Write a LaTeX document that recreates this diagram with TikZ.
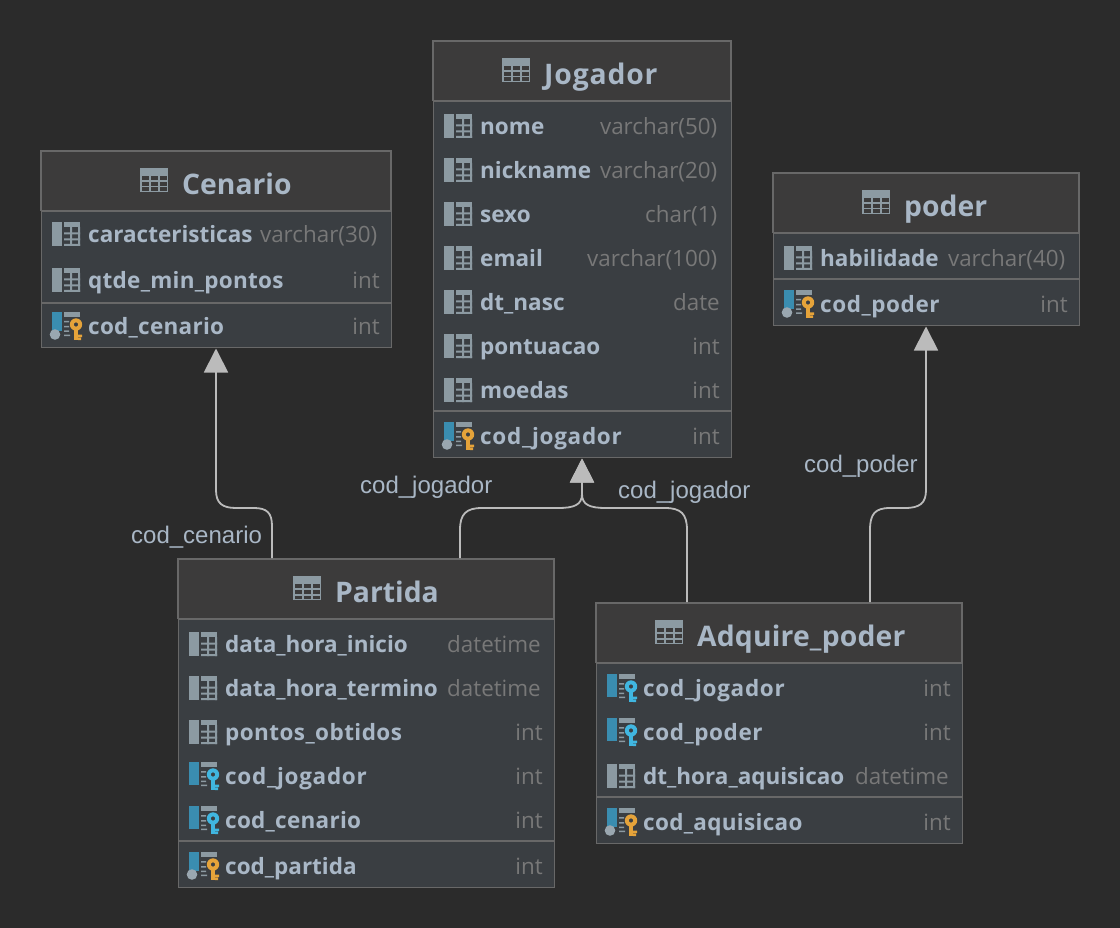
\documentclass[tikz,border=0pt]{standalone}
\usepackage{fontspec}
\setmainfont{Open Sans}
\newfontfamily\lblfont{Liberation Sans}
\usetikzlibrary{arrows.meta}
\definecolor{bgc}{HTML}{2B2B2B}
\definecolor{headc}{HTML}{3C3B3B}
\definecolor{bodyc}{HTML}{3A3E42}
\definecolor{borderc}{HTML}{686868}
\definecolor{textc}{HTML}{A9B7C6}
\definecolor{typec}{HTML}{787878}
\definecolor{iconc}{HTML}{8C9AA2}
\definecolor{barblue}{HTML}{3A8DB0}
\definecolor{dotc}{HTML}{9AA7B0}
\definecolor{fkc}{HTML}{40B6E0}
\definecolor{pkc}{HTML}{E5A33A}
\definecolor{linec}{HTML}{BBBBBB}
\newcommand{\ls}[2]{{\addfontfeature{LetterSpace=#1}#2}}
\newcommand{\rp}{)\kern2.5pt}
\newcommand{\dtm}{datetime\kern2pt}
\tikzset{
  tablebox/.style={draw=borderc,line width=1.4pt,fill=bodyc,anchor=north west,inner sep=0pt},
  titletext/.style={text=textc,anchor=base west,inner sep=0pt,font=\fontsize{28.3}{32}\selectfont\bfseries},
  colname/.style={text=textc,anchor=base west,inner sep=0pt,font=\fontsize{22.5}{26}\selectfont\bfseries},
  coltype/.style={text=typec,anchor=base east,inner sep=0pt,font=\fontsize{22.4}{26}\selectfont},
  fklabel/.style={text=textc,anchor=base west,inner sep=0pt,font=\fontsize{24}{28}\selectfont\lblfont},
  divider/.style={draw=borderc,line width=1.4pt},
  conn/.style={draw=linec,line width=1.8pt,-{Triangle[width=24pt,length=24pt,fill=linec]}},
}
\newcommand{\headband}[5]{\fill[headc] (#2,#4) rectangle (#3,#5);
  \draw[divider] (#2,#5) -- (#3,#5);
  \draw[draw=borderc,line width=1.4pt] (#2,#5) -- (#2,#4) -- (#3,#4) -- (#3,#5);}
\newcommand{\tabicon}[2]{\begin{scope}[shift={(#1,#2)}]
  \fill[iconc] (0,0) rectangle (28,24);
  \foreach \cx in {1.5,10.5,19.5}{\foreach \cy in {8,14,19.5}{\fill[headc] (\cx,\cy) rectangle ++(7,3.8);}}
  \end{scope}}
\newcommand{\colicon}[2]{\begin{scope}[shift={(#1,#2)}]
  \fill[iconc] (0,0) rectangle (10,24);
  \fill[iconc] (12,0) rectangle (28,5);
  \fill[iconc] (12,10.5) rectangle (28,12.5) (12,16.5) rectangle (28,18.5) (12,22) rectangle (28,24);
  \fill[iconc] (18,5) rectangle (20,24) (26,5) rectangle (28,24);
  \end{scope}}
\newcommand{\keyshape}[1]{%
  \fill[#1,even odd rule] (24,12.5) circle (6.2) (24,12.5) circle (2.2);
  \fill[#1] (22,17) rectangle (26,28);
  \fill[#1] (26,22.5) rectangle (30,25) (26,25.5) rectangle (29,28);}
\newcommand{\tablelines}{%
  \fill[iconc] (12,0) rectangle (28,5);
  \fill[iconc] (12,9) rectangle (17,10.5) (12,14) rectangle (17,15.5) (12,18.5) rectangle (17,20) (12,22.5) rectangle (18,24);}
\newcommand{\fkicon}[2]{\begin{scope}[shift={(#1,#2)}]
  \fill[barblue] (0,0) rectangle (10,23);
  \tablelines\keyshape{fkc}
  \end{scope}}
\newcommand{\pkicon}[2]{\begin{scope}[shift={(#1,#2)}]
  \fill[barblue] (0,0) rectangle (10,19);
  \fill[dotc] (3,22.5) circle (5.3);
  \tablelines\keyshape{pkc}
  \end{scope}}
\newcommand{\rowtext}[6]{%
  \node[colname] (#1-name) at (#2+47,#4+8.6) {#5};
  \node[coltype] (#1-type) at (#3-11,#4+8.6) {#6};}
\newcommand{\colrow}[6]{\colicon{#2+11}{#4-12}\rowtext{#1}{#2}{#3}{#4}{#5}{#6}}
\newcommand{\fkrow}[6]{\fkicon{#2+11}{#4-14}\rowtext{#1}{#2}{#3}{#4}{#5}{#6}}
\newcommand{\pkrow}[6]{\pkicon{#2+11}{#4-14}\rowtext{#1}{#2}{#3}{#4}{#5}{#6}}
\begin{document}
\begin{tikzpicture}[x=1pt,y=-1pt]
\useasboundingbox (0,0) rectangle (1120,928);
\fill[bgc] (0,0) rectangle (1120,928);

% Cenario
\node[tablebox,minimum width=350pt,minimum height=196pt] (cenario) at (41,151) {};
\headband{cenario}{41}{391}{151}{211}
\tabicon{140}{168}
\node[titletext] (cenario-title) at (182,194.5) {Cenario};
\colrow{cen1}{41}{391}{234}{caracteristicas}{varchar(30\rp}
\colrow{cen2}{41}{391}{280}{\ls{1.2}{qtde\_min\_pontos}}{int}
\draw[divider] (41,303) -- (391,303);
\pkrow{cen3}{41}{391}{326}{\ls{1.2}{cod\_cenario}}{int}

% Jogador
\node[tablebox,minimum width=298pt,minimum height=416pt] (jogador) at (433,41) {};
\headband{jogador}{433}{731}{41}{101}
\tabicon{502}{58}
\node[titletext] (jogador-title) at (544,84.5) {\ls{3}{Jogador}};
\colrow{jog1}{433}{731}{126}{nome}{varchar(50\rp}
\colrow{jog2}{433}{731}{170}{nickname}{varchar(20\rp}
\colrow{jog3}{433}{731}{214}{sexo}{char(1\rp}
\colrow{jog4}{433}{731}{258}{email}{varchar(100\rp}
\colrow{jog5}{433}{731}{302}{dt\_nasc}{date}
\colrow{jog6}{433}{731}{346}{pontuacao}{int}
\colrow{jog7}{433}{731}{390}{moedas}{int}
\draw[divider] (433,411) -- (731,411);
\pkrow{jog8}{433}{731}{436}{\ls{3.2}{cod\_jogador}}{int}

% poder
\node[tablebox,minimum width=306pt,minimum height=152pt] (poder) at (773,173) {};
\headband{poder}{773}{1079}{173}{233}
\tabicon{862}{190}
\node[titletext] (poder-title) at (904,216.5) {poder};
\colrow{pod1}{773}{1079}{258}{habilidade}{varchar(40\rp}
\draw[divider] (773,279) -- (1079,279);
\pkrow{pod2}{773}{1079}{304}{\ls{2.5}{cod\_poder}}{int}

% Partida
\node[tablebox,minimum width=376pt,minimum height=328pt] (partida) at (178,559) {};
\headband{partida}{178}{554}{559}{619}
\tabicon{293}{576}
\node[titletext] (partida-title) at (335,602.5) {Partida};
\colrow{par1}{178}{554}{644}{data\_hora\_inicio}{\dtm}
\colrow{par2}{178}{554}{688}{data\_hora\_termino}{\dtm}
\colrow{par3}{178}{554}{732}{\ls{1.9}{pontos\_obtidos}}{int}
\fkrow{par4}{178}{554}{776}{\ls{3.2}{cod\_jogador}}{int}
\fkrow{par5}{178}{554}{820}{\ls{1.2}{cod\_cenario}}{int}
\draw[divider] (178,841) -- (554,841);
\pkrow{par6}{178}{554}{866}{cod\_partida}{int}

% Adquire_poder
\node[tablebox,minimum width=366pt,minimum height=240pt] (adquire) at (596,603) {};
\headband{adquire}{596}{962}{603}{663}
\tabicon{655}{620}
\node[titletext] (adquire-title) at (697,646.5) {\ls{0.6}{Adquire\_poder}};
\fkrow{adq1}{596}{962}{688}{\ls{3.2}{cod\_jogador}}{int}
\fkrow{adq2}{596}{962}{732}{\ls{2.5}{cod\_poder}}{int}
\colrow{adq3}{596}{962}{776}{dt\_hora\_aquisicao}{\dtm}
\draw[divider] (596,797) -- (962,797);
\pkrow{adq4}{596}{962}{822}{\ls{1.4}{cod\_aquisicao}}{int}

% connector ends on the box edges
\coordinate (cenarioIn) at (216,348.5);
\coordinate (jogadorIn) at (582,458.5);
\coordinate (poderIn) at (926,326.5);
\coordinate (partidaOutA) at (272,558);
\coordinate (partidaOutB) at (460,558);
\coordinate (adquireOutA) at (687,602);
\coordinate (adquireOutB) at (870,602);

\draw[conn] (partidaOutA) -- (272,526) .. controls (272,513) and (267,508) .. (254,508) -- (236,508) .. controls (222,508) and (216,503) .. (216,490) -- (cenarioIn);
\draw[conn] (partidaOutB) -- (460,530) .. controls (460,514) and (466,508) .. (482,508) -- (558,508) .. controls (574,508) and (582,505) .. (582,494) -- (jogadorIn);
\draw[conn] (adquireOutA) -- (687,530) .. controls (687,514) and (681,508) .. (665,508) -- (606,508) .. controls (590,508) and (582,505) .. (582,494) -- (jogadorIn);
\draw[conn] (adquireOutB) -- (870,530) .. controls (870,514) and (875,508) .. (890,508) -- (905,508) .. controls (920,508) and (926,503) .. (926,490) -- (poderIn);

\node[fklabel] (lblCenario) at (131,543) {cod\_cenario};
\node[fklabel] (lblJogA) at (360,493) {cod\_jogador};
\node[fklabel] (lblJogB) at (618,498) {cod\_jogador};
\node[fklabel] (lblPoder) at (804,472) {cod\_poder};
\end{tikzpicture}
\end{document}
